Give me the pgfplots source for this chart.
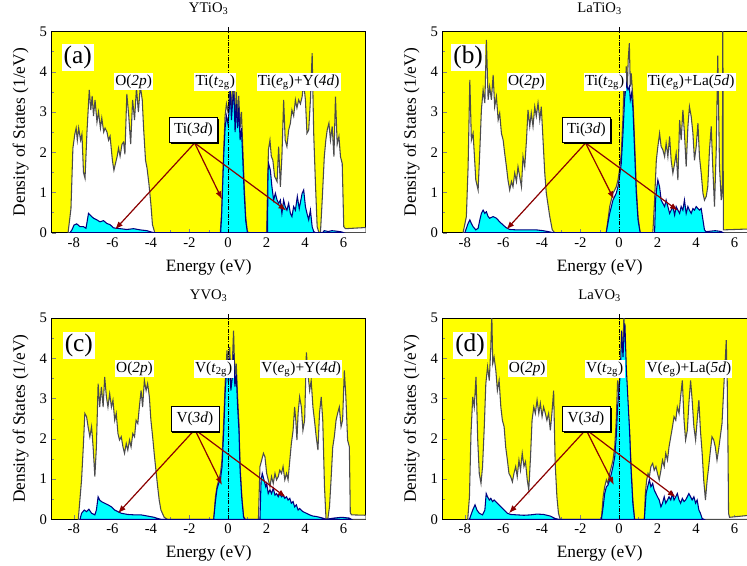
\documentclass[border=0pt]{standalone}
\usepackage{fontspec}
\setmainfont{Liberation Serif}
\usepackage{pgfplots}
\pgfplotsset{compat=1.18}
\usepackage{pgfplotstable}
\usetikzlibrary{arrows.meta,shadows}

\definecolor{dosyellow}{RGB}{255,255,0}
\definecolor{doscyan}{RGB}{0,255,255}
\definecolor{dosgray}{RGB}{75,75,75}
\definecolor{dosnavy}{RGB}{0,0,128}
\definecolor{arrowred}{RGB}{139,0,0}

% ---------------- (a) YTiO3 ----------------
\pgfplotstableread{
x y
-8.3 0
-8.15 0.6
-8.05 2.1
-7.95 2.45
-7.88 2.6
-7.82 2.3
-7.75 2.6
-7.65 2.3
-7.58 2.45
-7.5 1.5
-7.42 1.35
-7.32 2.5
-7.2 3.55
-7.12 3.05
-7.05 3.4
-6.98 2.9
-6.9 3.3
-6.8 2.75
-6.72 3.0
-6.62 2.6
-6.55 2.85
-6.45 2.5
-6.38 2.6
-6.28 2.5
-6.2 2.3
-6.12 2.4
-6.0 1.8
-5.92 1.55
-5.85 1.7
-5.75 1.9
-5.68 2.1
-5.6 1.9
-5.5 2.2
-5.42 2.25
-5.35 1.95
-5.25 3.45
-5.15 2.9
-5.05 2.2
-4.95 3.3
-4.85 2.8
-4.75 3.6
-4.65 3.0
-4.55 3.65
-4.45 3.3
-4.38 2.6
-4.28 1.8
-4.2 1.6
-4.1 1.2
-4.0 0.7
-3.92 0.2
-3.8 0
-0.4 0
-0.33 0.5
-0.28 1.2
-0.22 2.1
-0.15 2.9
-0.08 3.2
0.0 3.0
0.07 3.4
0.12 3.7
0.18 3.0
0.25 3.6
0.31 3.55
0.37 2.7
0.43 3.5
0.5 2.9
0.56 3.4
0.63 2.6
0.7 3.0
0.77 2.1
0.84 1.2
0.92 0.4
1.0 0.05
1.05 0
2.0 0
2.06 1.2
2.1 2.06
2.18 2.3
2.25 1.9
2.33 1.8
2.42 1.4
2.55 1.27
2.63 2.14
2.72 1.14
2.8 1.9
2.89 3.3
2.97 2.3
3.06 2.14
3.15 2.55
3.24 2.72
3.32 3.05
3.41 2.9
3.5 3.3
3.58 3.1
3.67 3.3
3.76 3.2
3.85 3.38
3.93 3.71
4.02 3.3
4.1 2.47
4.19 2.55
4.28 3.3
4.37 4.46
4.45 2.47
4.54 1.23
4.63 0.15
4.72 0
4.8 0
4.89 0.8
5.0 1.89
5.08 2.3
5.15 2.55
5.24 2.72
5.32 2.3
5.41 2.64
5.5 1.89
5.58 3.38
5.67 2.2
5.76 2.39
5.84 1.89
5.93 1.72
6.01 0.15
6.1 0.1
7.2 0.13
}\atot
\pgfplotstableread{
x y
-8.2 0
-8.1 0.07
-7.99 0.19
-7.85 0.22
-7.68 0.15
-7.5 0.15
-7.37 0.11
-7.24 0.48
-7.16 0.44
-7.07 0.4
-6.98 0.36
-6.81 0.32
-6.64 0.27
-6.46 0.3
-6.29 0.23
-6.12 0.2
-5.94 0.12
-5.6 0.1
-5.25 0.08
-4.9 0.1
-4.56 0.07
-4.21 0.05
-3.86 0
-0.38 0
-0.33 0.4
-0.28 1.1
-0.22 1.9
-0.15 2.6
-0.08 2.9
0.0 2.7
0.07 3.1
0.12 3.55
0.18 2.8
0.25 3.3
0.31 3.45
0.37 2.5
0.43 3.2
0.5 2.6
0.56 3.1
0.63 2.3
0.7 2.6
0.77 1.8
0.84 1.0
0.92 0.3
1.0 0.03
1.05 0
2.05 0
2.08 1.5
2.11 1.72
2.2 1.55
2.28 1.15
2.37 0.81
2.46 0.98
2.55 0.81
2.63 0.73
2.72 0.81
2.8 0.48
2.89 0.81
2.97 0.65
3.06 0.56
3.15 0.73
3.24 0.48
3.32 0.4
3.41 0.65
3.5 0.56
3.6 0.9
3.7 0.6
3.85 0.98
3.93 1.06
4.02 0.65
4.1 0.48
4.19 0.32
4.28 0.56
4.37 0.15
4.45 0.03
4.54 0
4.9 0
5.0 0.05
5.2 0.03
5.4 0.05
5.6 0.04
5.9 0.02
6.0 0
}\apar

% ---------------- (b) LaTiO3 ----------------
\pgfplotstableread{
x y
-8.09 0
-7.92 0.4
-7.83 1.64
-7.74 3.8
-7.66 2.3
-7.57 2.47
-7.43 1.31
-7.31 1.06
-7.22 2.06
-7.14 3.05
-7.05 3.55
-6.96 3.22
-6.88 4.79
-6.79 3.3
-6.71 3.63
-6.62 3.3
-6.53 3.92
-6.45 3.13
-6.36 3.38
-6.27 2.8
-6.19 2.97
-6.1 2.47
-6.01 2.3
-5.93 1.97
-5.84 1.64
-5.76 1.31
-5.67 1.06
-5.58 1.27
-5.5 1.14
-5.41 1.48
-5.32 1.27
-5.24 1.64
-5.15 1.39
-5.06 1.14
-4.98 1.89
-4.89 1.64
-4.8 2.3
-4.72 3.05
-4.63 2.64
-4.55 2.97
-4.46 2.64
-4.37 3.13
-4.29 2.89
-4.2 3.22
-4.11 2.8
-4.03 3.13
-3.94 2.3
-3.85 1.48
-3.77 0.98
-3.59 0.4
-3.46 0.07
-3.34 0
-0.66 0
-0.57 0.32
-0.48 0.65
-0.4 0.81
-0.31 0.98
-0.22 1.06
-0.14 1.14
-0.05 1.31
0.03 1.56
0.12 1.97
0.21 2.88
0.26 3.71
0.31 3.38
0.38 4.13
0.43 3.47
0.48 4.3
0.54 4.71
0.59 3.63
0.64 3.96
0.73 3.3
0.81 2.3
0.9 1.14
0.99 0.4
1.1 0
1.76 0
1.85 0.81
1.94 1.8
2.02 2.14
2.11 2.47
2.19 2.14
2.28 2.06
2.37 1.89
2.45 2.22
2.54 1.89
2.63 2.39
2.71 1.8
2.8 1.48
2.89 1.72
2.97 1.97
3.06 1.31
3.15 2.8
3.23 2.3
3.32 3.05
3.4 2.47
3.49 1.64
3.58 2.64
3.66 3.13
3.75 2.89
3.84 2.47
3.92 1.8
4.01 2.14
4.1 2.72
4.18 1.89
4.27 1.48
4.36 0.98
4.44 0.81
4.53 0.9
4.61 1.14
4.7 2.06
4.79 2.64
4.87 1.64
4.96 0.65
5.05 2.06
5.13 4.4
5.22 1.64
5.31 0.81
5.37 1.2
5.39 6.0
5.42 0.07
7.2 0.1
}\btot
\pgfplotstableread{
x y
-8.0 0
-7.83 0.23
-7.74 0.32
-7.66 0.23
-7.57 0.15
-7.43 0.07
-7.31 0.11
-7.22 0.32
-7.14 0.48
-7.05 0.56
-6.96 0.48
-6.88 0.52
-6.79 0.4
-6.71 0.36
-6.53 0.4
-6.36 0.36
-6.19 0.27
-6.01 0.19
-5.84 0.12
-5.67 0.08
-5.32 0.07
-4.98 0.07
-4.63 0.07
-4.29 0.07
-3.94 0.05
-3.59 0.02
-3.42 0
-0.66 0
-0.48 0.48
-0.31 0.81
-0.14 0.98
-0.05 1.14
0.03 1.39
0.12 1.72
0.21 2.47
0.29 3.3
0.38 3.71
0.47 3.55
0.54 3.63
0.59 3.3
0.66 3.47
0.73 3.05
0.81 2.06
0.9 0.98
0.99 0.32
1.1 0
1.85 0
1.9 0.81
1.97 1.14
2.02 1.31
2.11 1.14
2.19 0.81
2.28 0.73
2.37 0.65
2.45 0.81
2.54 0.65
2.63 0.48
2.71 0.56
2.8 0.65
2.89 0.44
2.97 0.65
3.06 0.56
3.15 0.48
3.23 0.65
3.32 0.56
3.4 0.81
3.49 0.48
3.58 0.65
3.66 0.56
3.75 0.48
3.84 0.6
3.92 0.56
4.01 0.65
4.1 0.6
4.18 0.56
4.27 0.6
4.36 0.32
4.44 0.07
4.53 0.02
4.6 0.03
5.0 0.05
5.3 0.03
5.4 0
}\bpar

% ---------------- (c) YVO3 ----------------
\pgfplotstableread{
x y
-7.77 0
-7.6 0.98
-7.51 1.8
-7.43 2.63
-7.34 2.55
-7.26 2.3
-7.17 2.05
-7.08 2.3
-7.0 1.8
-6.91 1.06
-6.83 1.8
-6.74 3.37
-6.66 2.79
-6.57 3.29
-6.48 2.79
-6.4 3.54
-6.31 3.04
-6.23 2.79
-6.14 3.12
-6.05 2.79
-5.97 2.96
-5.88 2.46
-5.8 2.63
-5.71 2.13
-5.63 1.97
-5.54 2.05
-5.45 1.8
-5.37 1.64
-5.28 1.88
-5.2 1.72
-5.11 1.97
-5.03 1.8
-4.94 2.13
-4.85 2.05
-4.77 2.46
-4.68 2.38
-4.6 2.79
-4.51 3.2
-4.43 2.79
-4.34 3.45
-4.25 3.2
-4.17 3.37
-4.08 3.04
-4.0 2.46
-3.91 2.05
-3.83 1.64
-3.74 1.22
-3.65 0.81
-3.57 0.48
-3.48 0.23
-3.31 0.05
-3.14 0
-0.74 0
-0.65 0.56
-0.57 0.81
-0.48 0.98
-0.39 1.14
-0.31 1.47
-0.22 2.46
-0.14 3.45
-0.05 4.2
0.02 3.7
0.09 4.28
0.15 3.45
0.22 3.79
0.29 4.69
0.36 3.54
0.43 3.87
0.5 3.04
0.57 2.38
0.63 1.31
0.72 0.56
0.81 0.07
0.89 0
1.58 0
1.66 1.31
1.75 1.47
1.84 1.64
1.92 1.55
2.01 1.14
2.09 0.98
2.18 0.81
2.26 1.06
2.35 0.89
2.44 1.14
2.52 0.98
2.61 1.06
2.69 1.22
2.78 1.14
2.86 1.31
2.95 0.98
3.04 1.14
3.12 0.98
3.21 1.47
3.29 1.88
3.38 2.21
3.46 2.79
3.52 2.46
3.58 1.97
3.64 2.63
3.72 3.04
3.81 2.79
3.89 2.21
3.98 2.46
4.07 4.15
4.15 3.62
4.24 3.2
4.32 3.45
4.41 2.79
4.49 2.46
4.58 2.05
4.67 1.72
4.75 2.63
4.84 3.04
4.92 2.46
5.01 0.81
5.09 0
5.18 0
5.27 0.31
5.35 0.98
5.44 1.8
5.52 2.05
5.61 2.46
5.69 2.63
5.78 2.79
5.87 2.3
5.95 2.46
6.04 3.7
6.12 3.04
6.21 1.97
6.3 1.8
6.35 0.15
6.43 0.11
7.2 0.1
}\ctot
\pgfplotstableread{
x y
-7.68 0
-7.6 0.15
-7.46 0.23
-7.34 0.19
-7.22 0.25
-7.08 0.15
-6.91 0.11
-6.83 0.23
-6.74 0.56
-6.66 0.48
-6.57 0.44
-6.4 0.4
-6.23 0.36
-6.05 0.31
-5.88 0.23
-5.71 0.19
-5.54 0.15
-5.2 0.12
-4.85 0.11
-4.51 0.11
-4.17 0.08
-3.83 0.05
-3.65 0.02
-3.48 0
-0.74 0
-0.65 0.45
-0.57 0.75
-0.48 0.9
-0.39 1.0
-0.31 1.3
-0.22 2.2
-0.14 3.2
-0.05 3.9
0.02 3.4
0.09 4.0
0.15 3.2
0.22 3.5
0.29 4.1
0.36 3.3
0.43 3.6
0.5 2.8
0.57 2.2
0.63 1.2
0.72 0.5
0.81 0.05
0.89 0
1.66 0
1.72 0.98
1.78 1.14
1.87 0.98
1.96 0.81
2.01 0.89
2.09 0.64
2.18 0.73
2.26 0.64
2.35 0.77
2.44 0.6
2.52 0.64
2.61 0.56
2.69 0.64
2.78 0.56
2.86 0.6
2.95 0.52
3.04 0.56
3.12 0.48
3.21 0.52
3.29 0.4
3.38 0.44
3.46 0.31
3.55 0.36
3.64 0.23
3.72 0.27
3.89 0.19
4.07 0.15
4.24 0.11
4.41 0.08
4.58 0.07
4.75 0.05
4.92 0.03
5.09 0
5.5 0.03
5.9 0.05
6.3 0.03
6.4 0
}\cpar

% ---------------- (d) LaVO3 ----------------
\pgfplotstableread{
x y
-7.85 0
-7.76 0.56
-7.68 2.13
-7.59 3.04
-7.51 2.79
-7.42 3.54
-7.33 1.97
-7.25 1.14
-7.16 0.89
-7.08 1.31
-6.99 2.3
-6.91 3.37
-6.82 3.79
-6.73 3.45
-6.65 4.28
-6.6 5.1
-6.55 3.87
-6.48 4.03
-6.39 3.7
-6.31 3.2
-6.22 3.45
-6.13 2.79
-6.05 2.46
-5.96 2.3
-5.88 1.8
-5.79 1.47
-5.71 1.14
-5.62 1.06
-5.53 0.93
-5.45 1.14
-5.36 1.31
-5.28 1.06
-5.19 1.47
-5.11 1.22
-5.02 1.64
-4.93 1.31
-4.85 1.43
-4.76 0.98
-4.68 0.73
-4.59 1.55
-4.51 2.46
-4.42 2.79
-4.34 2.63
-4.25 2.96
-4.16 2.63
-4.08 2.88
-3.99 2.55
-3.91 2.79
-3.82 2.63
-3.74 2.46
-3.65 2.63
-3.56 2.21
-3.48 2.63
-3.39 3.2
-3.31 1.39
-3.22 0.56
-3.14 0.15
-3.05 0
-0.91 0
-0.82 0.56
-0.74 0.81
-0.65 0.98
-0.57 0.89
-0.48 1.14
-0.39 1.31
-0.31 1.47
-0.22 1.8
-0.14 2.46
-0.07 3.45
0.0 3.12
0.07 3.87
0.14 2.96
0.21 4.28
0.26 5.1
0.31 4.28
0.38 3.45
0.46 2.79
0.55 2.21
0.63 1.31
0.72 0.48
0.81 0
1.32 0
1.37 0.64
1.44 0.98
1.51 1.14
1.58 1.06
1.66 1.31
1.75 1.39
1.83 1.22
1.92 1.31
2.0 1.14
2.09 0.98
2.18 1.22
2.26 1.47
2.35 1.31
2.43 1.64
2.52 1.47
2.6 1.8
2.69 2.05
2.78 2.3
2.86 2.55
2.95 2.46
3.03 2.79
3.12 2.63
3.2 3.04
3.29 3.45
3.38 2.46
3.46 1.97
3.55 2.21
3.63 2.88
3.72 3.45
3.8 2.96
3.89 2.3
3.98 1.97
4.06 2.46
4.15 2.96
4.23 2.21
4.32 1.64
4.4 0.98
4.49 0.48
4.58 0.98
4.66 1.31
4.75 1.72
4.83 2.05
4.92 1.97
5.0 1.8
5.09 1.47
5.17 1.72
5.26 2.05
5.35 2.38
5.46 3.45
5.5 3.79
5.57 4.45
5.62 3.45
5.66 1.8
5.69 0.15
5.74 0.05
7.2 0.12
}\dtot
\pgfplotstableread{
x y
-7.76 0
-7.68 0.11
-7.59 0.23
-7.47 0.36
-7.37 0.23
-7.25 0.15
-7.08 0.11
-6.96 0.23
-6.89 0.64
-6.82 0.56
-6.73 0.48
-6.65 0.52
-6.56 0.44
-6.48 0.48
-6.31 0.4
-6.13 0.31
-5.96 0.23
-5.79 0.15
-5.62 0.12
-5.28 0.11
-4.93 0.1
-4.59 0.11
-4.25 0.13
-3.91 0.12
-3.56 0.08
-3.31 0.02
-3.14 0
-0.91 0
-0.82 0.31
-0.74 0.64
-0.65 0.81
-0.57 0.85
-0.48 0.98
-0.39 1.14
-0.31 1.31
-0.22 1.55
-0.14 2.05
-0.07 2.79
0.0 3.2
0.07 3.62
0.14 4.69
0.21 4.03
0.26 4.53
0.31 4.86
0.38 3.79
0.46 3.04
0.55 2.21
0.63 1.22
0.72 0.4
0.81 0
1.32 0
1.41 0.64
1.49 0.81
1.58 0.98
1.66 0.81
1.75 0.89
1.83 0.73
1.92 0.64
2.0 0.56
2.09 0.48
2.18 0.31
2.26 0.4
2.35 0.56
2.43 0.4
2.52 0.48
2.6 0.56
2.69 0.48
2.78 0.64
2.86 0.48
2.95 0.56
3.03 0.64
3.12 0.48
3.2 0.4
3.29 0.52
3.38 0.44
3.46 0.48
3.55 0.56
3.63 0.64
3.72 0.56
3.8 0.48
3.89 0.56
3.98 0.4
4.06 0.48
4.15 0.23
4.23 0.15
4.32 0.02
4.4 0
}\dpar

\newcommand{\tickfont}{\fontsize{11}{13}\selectfont}
\newcommand{\labfont}{\fontsize{13}{15}\selectfont}

\pgfplotsset{
 dosaxis/.style={
  scale only axis, width=235.5pt, height=150.9pt,
  xmin=-9.15, xmax=7.15, ymin=0, ymax=5,
  xtick={-8,-6,...,6}, ytick={0,1,...,5},
  minor x tick num=1, minor y tick num=1,
  tick align=inside, xtick pos=left, ytick pos=left,
  major tick length=3pt, minor tick length=2pt,
  axis background/.style={fill=dosyellow},
  clip mode=individual,
  /pgf/number format/assume math mode=true,
  xticklabel style={font=\tickfont},
  yticklabel style={font=\tickfont},
  xlabel={\labfont Energy (eV)}, ylabel={\labfont Density of States (1/eV)},
  every axis x label/.style={at={(axis description cs:0.5,-0.171)}, anchor=center},
  every axis y label/.style={at={(axis description cs:-0.099,0.5)}, anchor=center, rotate=90},
  title style={at={(axis description cs:0.5,1.055)}, anchor=base, font=\fontsize{11}{13}\selectfont},
  axis line style={line width=0.6pt},
 },
 tot/.style={fill=white, draw=dosgray, line width=0.8pt},
 par/.style={fill=doscyan, draw=dosnavy, line width=0.8pt},
}
\tikzset{
 lbl/.style={fill=white, inner sep=1pt, anchor=base, font=\fontsize{11.5}{13}\selectfont},
 plab/.style={fill=white, inner sep=1.5pt, font=\fontsize{19}{22}\selectfont},
 boxl/.style={draw=black, fill=white, font=\fontsize{11.5}{13}\selectfont, minimum width=36pt, minimum height=19pt, inner sep=2pt, drop shadow={shadow xshift=1.2pt, shadow yshift=-1.2pt, fill=black, opacity=1}},
 arr/.style={draw=arrowred, line width=0.9pt, -{Latex[length=6pt,width=4.5pt]}},
 fermi/.style={black, line width=0.5pt, dash pattern=on 3pt off 1pt on 0.6pt off 1pt},
}

\begin{document}
\begin{tikzpicture}
\useasboundingbox (0,0) rectangle (560.25pt,423.75pt);
\clip (0,0) rectangle (560.25pt,423.75pt);

% (a)
\begin{axis}[dosaxis, at={(38.775pt,249.225pt)}, anchor=south west, title={YTiO\textsubscript{3}}]
\addplot[tot] table {\atot} \closedcycle;
\addplot[par] table {\apar} \closedcycle;
\draw[fermi] (axis cs:0,0) -- (axis cs:0,5.1);
\node[plab] at (axis cs:-7.8,4.36) {(a)};
\node[lbl] at (axis cs:-4.9,3.67) {O(\textit{2p})};
\node[lbl] at (axis cs:-0.66,3.67) {Ti(\textit{t}\textsubscript{2g})};
\node[lbl] at (axis cs:3.67,3.67) {Ti(\textit{e}\textsubscript{g})+Y(\textit{4d})};
\draw[arr] (axis cs:-1.73,2.23) -- (axis cs:-5.86,0.08);
\draw[arr] (axis cs:-1.73,2.23) -- (axis cs:-0.31,0.83);
\draw[arr] (axis cs:-1.73,2.23) -- (axis cs:3.03,0.55);
\node[boxl] at (axis cs:-1.79,2.55) {Ti(\textit{3d})};
\end{axis}

% (b)
\begin{axis}[dosaxis, at={(332.0pt,249.225pt)}, anchor=south west, title={LaTiO\textsubscript{3}}]
\addplot[tot] table {\btot} \closedcycle;
\addplot[par] table {\bpar} \closedcycle;
\draw[fermi] (axis cs:0,0) -- (axis cs:0,5.1);
\node[plab] at (axis cs:-7.83,4.36) {(b)};
\node[lbl] at (axis cs:-4.8,3.67) {O(\textit{2p})};
\node[lbl] at (axis cs:-0.74,3.67) {Ti(\textit{t}\textsubscript{2g})};
\node[lbl] at (axis cs:3.75,3.67) {Ti(\textit{e}\textsubscript{g})+La(\textit{5d})};
\draw[arr] (axis cs:-1.73,2.23) -- (axis cs:-5.84,0.08);
\draw[arr] (axis cs:-1.73,2.23) -- (axis cs:-0.26,0.83);
\draw[arr] (axis cs:-1.73,2.23) -- (axis cs:3.06,0.55);
\node[boxl] at (axis cs:-1.69,2.55) {Ti(\textit{3d})};
\end{axis}

% (c)
\begin{axis}[dosaxis, at={(38.775pt,34.275pt)}, anchor=south west, title={YVO\textsubscript{3}}]
\addplot[tot] table {\ctot} \closedcycle;
\addplot[par] table {\cpar} \closedcycle;
\draw[fermi] (axis cs:0,0) -- (axis cs:0,5.1);
\node[plab] at (axis cs:-7.74,4.32) {(c)};
\node[lbl] at (axis cs:-4.85,3.66) {O(\textit{2p})};
\node[lbl] at (axis cs:-0.74,3.66) {V(\textit{t}\textsubscript{2g})};
\node[lbl] at (axis cs:3.8,3.66) {V(\textit{e}\textsubscript{g})+Y(\textit{4d})};
\draw[arr] (axis cs:-1.72,2.23) -- (axis cs:-5.71,0.15);
\draw[arr] (axis cs:-1.72,2.23) -- (axis cs:-0.31,0.85);
\draw[arr] (axis cs:-1.72,2.23) -- (axis cs:3.0,0.55);
\node[boxl] at (axis cs:-1.72,2.5) {V(\textit{3d})};
\end{axis}

% (d)
\begin{axis}[dosaxis, at={(332.0pt,34.275pt)}, anchor=south west, title={LaVO\textsubscript{3}}]
\addplot[tot] table {\dtot} \closedcycle;
\addplot[par] table {\dpar} \closedcycle;
\draw[fermi] (axis cs:0,0) -- (axis cs:0,5.1);
\node[plab] at (axis cs:-7.73,4.32) {(d)};
\node[lbl] at (axis cs:-4.76,3.66) {O(\textit{2p})};
\node[lbl] at (axis cs:-0.74,3.66) {V(\textit{t}\textsubscript{2g})};
\node[lbl] at (axis cs:3.63,3.66) {V(\textit{e}\textsubscript{g})+La(\textit{5d})};
\draw[arr] (axis cs:-1.71,2.23) -- (axis cs:-5.71,0.15);
\draw[arr] (axis cs:-1.71,2.23) -- (axis cs:-0.26,0.85);
\draw[arr] (axis cs:-1.71,2.23) -- (axis cs:2.95,0.55);
\node[boxl] at (axis cs:-1.71,2.5) {V(\textit{3d})};
\end{axis}
\end{tikzpicture}
\end{document}
